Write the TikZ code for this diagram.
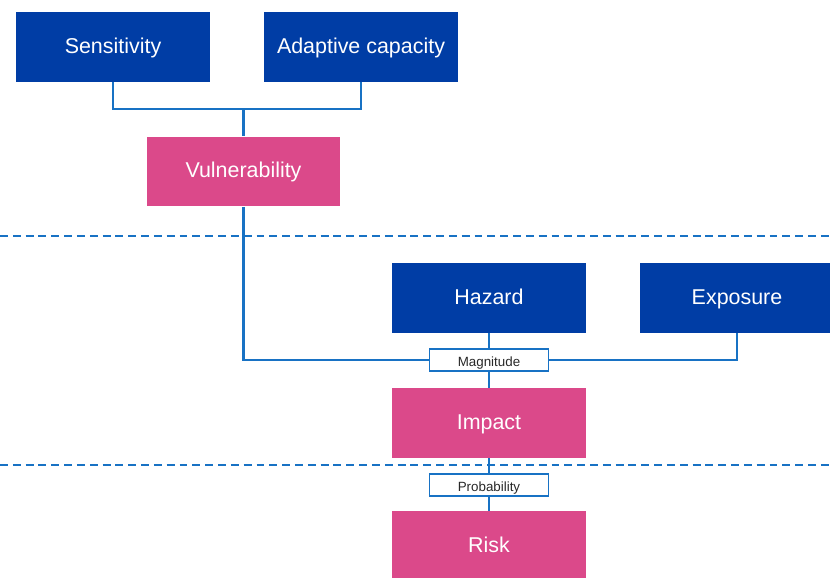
\documentclass[tikz,border=0pt]{standalone}
\usepackage{fontspec}
\setmainfont{Liberation Sans}
\usetikzlibrary{positioning}
\definecolor{darkblue}{RGB}{0,61,165}
\definecolor{rosepink}{RGB}{219,73,138}
\definecolor{linkblue}{RGB}{24,114,196}
\definecolor{tagtext}{RGB}{40,40,40}
\tikzset{
    factor/.style={fill=darkblue, text=white, minimum width=3.88cm,
                   minimum height=1.4cm, inner sep=0pt, text height=0.86em,
                   text depth=0.14em, font=\fontsize{12.2}{14}\selectfont},
    outcome/.style={factor, fill=rosepink},
    tag/.style={draw=linkblue, fill=white, line width=0.6pt, minimum width=2.38cm,
                minimum height=0.44cm, inner sep=0pt, text=tagtext, text height=0.86em,
                text depth=0.14em, font=\fontsize{7.6}{9}\selectfont},
    link/.style={draw=linkblue, line width=1.2pt},
    divider/.style={draw=linkblue, line width=0.9pt, dash pattern=on 4.5pt off 2.8pt},
}

\begin{document}
\begin{tikzpicture}[x=0.02cm, y=-0.02cm]
    \useasboundingbox (0,0) rectangle (830,577);
    \clip (0,0) rectangle (830,577);

    \node[factor] (sens) at (113,47) {Sensitivity};
    \node[factor] (adapt) at (361,47) {Adaptive capacity};
    \node[outcome] (vuln) at (243.5,171.5) {Vulnerability};
    \node[factor] (hazard) at (489,298) {Hazard};
    \node[factor] (expo) at (737,298) {Exposure};
    \node[tag] (magn) at (489,360) {Magnitude};
    \node[outcome] (impact) at (489,423) {Impact};
    \node[tag] (prob) at (489,485) {Probability};
    \node[outcome] (risk) at (489,546) {Risk};

    % split lines between the three levels
    \coordinate (upleft) at (0,236);
    \coordinate (upright) at (830,236);
    \coordinate (lowleft) at (0,465);
    \coordinate (lowright) at (830,465);
    \draw[divider] (upleft) -- (upright);
    \draw[divider] (lowleft) -- (lowright);

    \coordinate (join) at (243.5,109);
    \draw[link] (sens.south) |- (join) -| (adapt.south);
    \draw[link] (join) -- (vuln.north);
    \draw[link] (vuln.south) |- (magn.west);
    \draw[link] (expo.south) |- (magn.east);
    \draw[link] (hazard.south) -- (magn.north);
    \draw[link] (magn.south) -- (impact.north);
    \draw[link] (impact.south) -- (prob.north);
    \draw[link] (prob.south) -- (risk.north);
\end{tikzpicture}
\end{document}
